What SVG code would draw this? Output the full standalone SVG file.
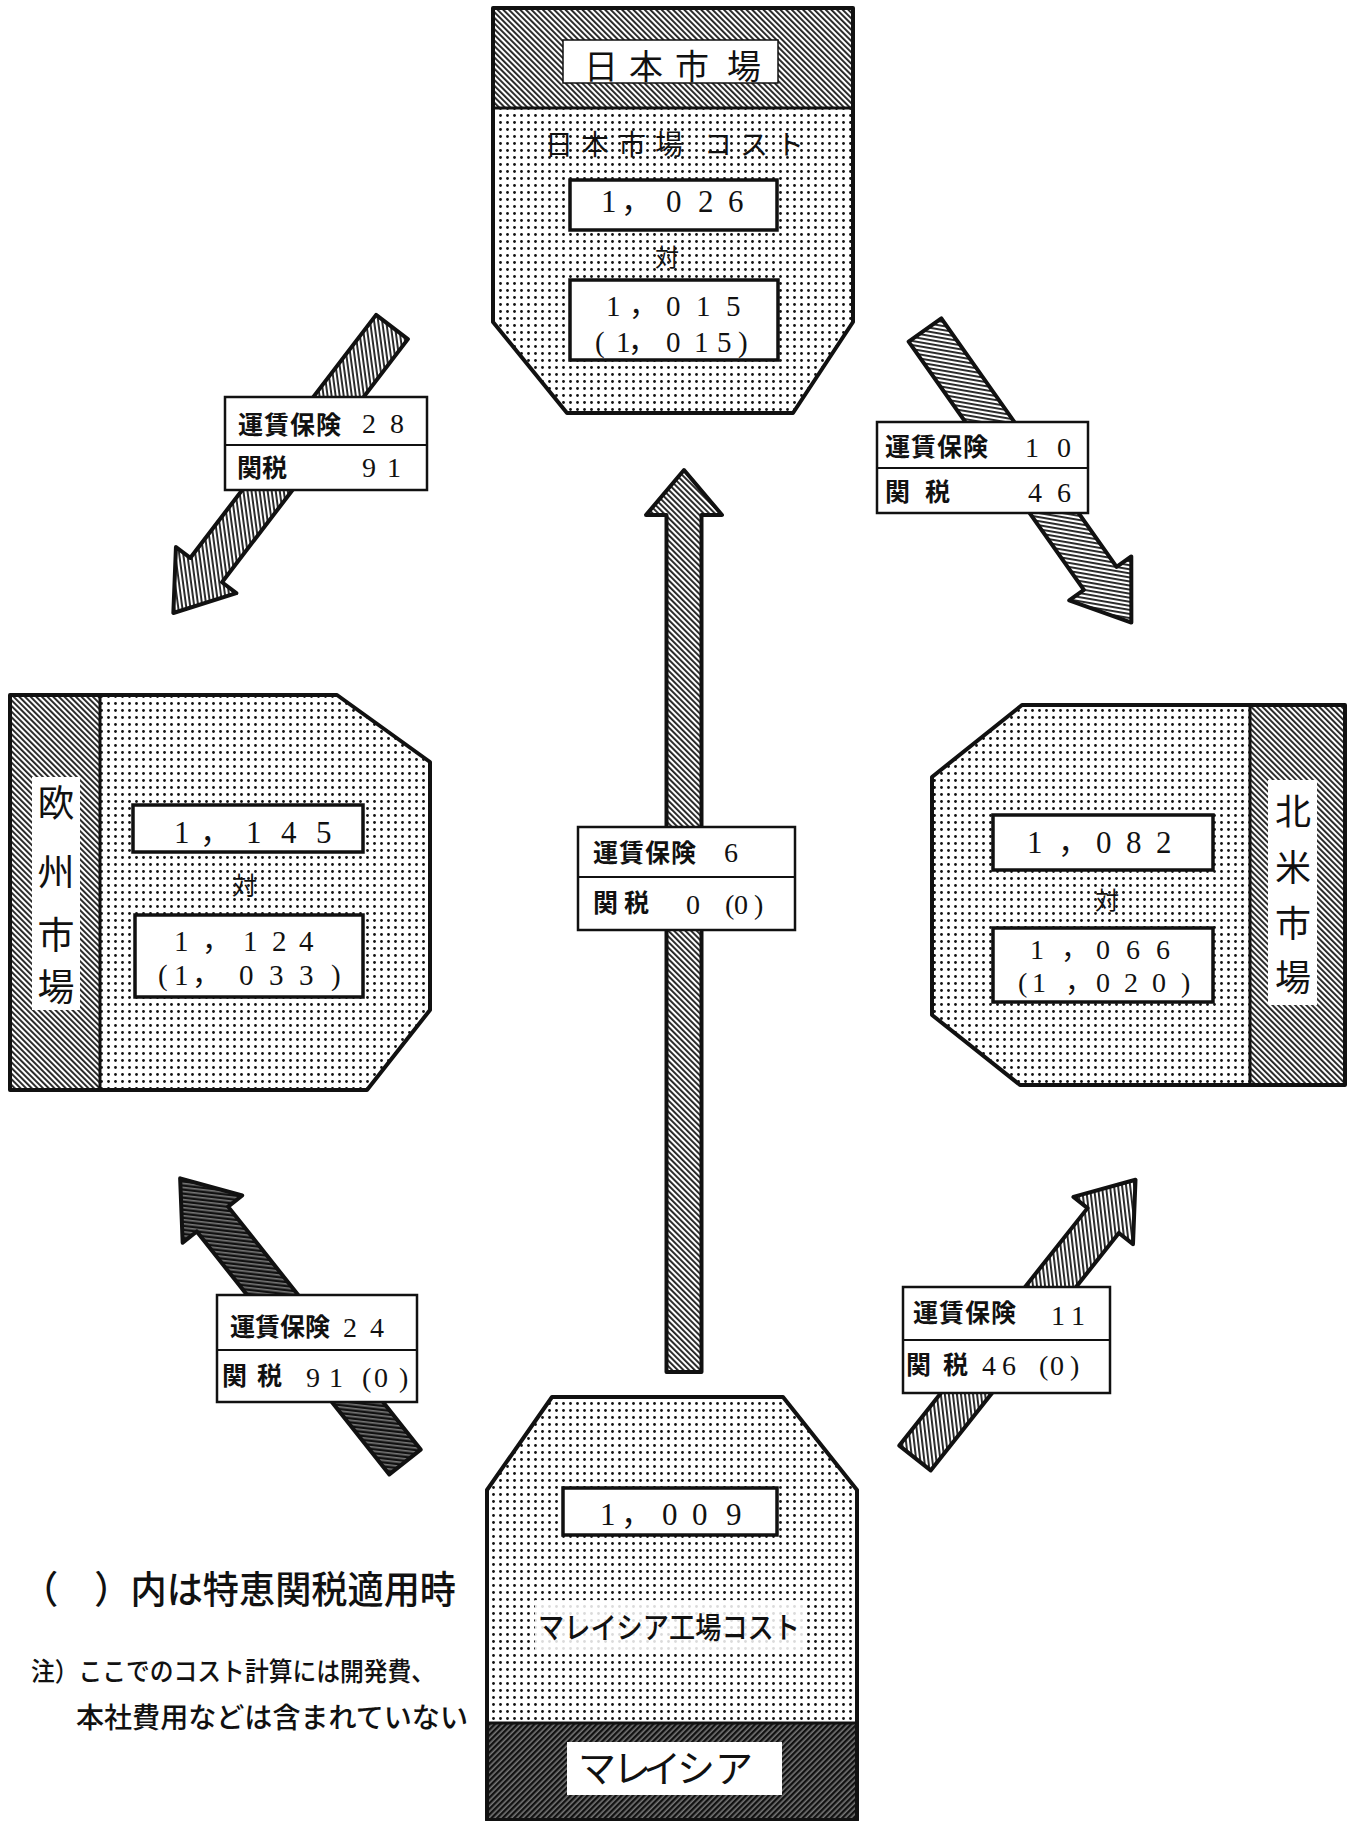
<svg xmlns="http://www.w3.org/2000/svg" width="1353" height="1821" viewBox="0 0 1353 1821">
<style>
.jp{font-family:"Noto Sans CJK JP","Noto Sans CJK SC",sans-serif;fill:#111}
.num{font-family:"Liberation Serif","Noto Sans CJK JP",serif;fill:#111}
.lb{font-family:"Noto Sans CJK JP","Noto Sans CJK SC",sans-serif;font-weight:700;font-size:25px;fill:#111}
.ln{font-family:"Liberation Serif","Noto Sans CJK JP",serif;font-size:28px;fill:#111}
.box{fill:#fff;stroke:#111;stroke-width:3.5}
.tag{fill:#fff;stroke:#111;stroke-width:2.5}
.outline{fill:none;stroke:#111;stroke-width:4;stroke-linejoin:round}
.arrow{stroke:#111;stroke-width:4;stroke-linejoin:round}
</style>
<defs>
<pattern id="dots" width="7" height="7" patternUnits="userSpaceOnUse"><rect width="7" height="7" fill="#fff"/><circle cx="3.5" cy="3.5" r="1.4" fill="#111"/></pattern>
<pattern id="hatch" width="4" height="4" patternUnits="userSpaceOnUse" patternTransform="rotate(45)"><rect width="4" height="4" fill="#fff"/><rect width="1.9" height="4" fill="#222"/></pattern>
<pattern id="hatch2" width="4" height="4" patternUnits="userSpaceOnUse" patternTransform="rotate(-45)"><rect width="4" height="4" fill="#fff"/><rect width="1.9" height="4" fill="#222"/></pattern>
<pattern id="hatchDark" width="4" height="4" patternUnits="userSpaceOnUse" patternTransform="rotate(45)"><rect width="4" height="4" fill="#777"/><rect width="2.4" height="4" fill="#111"/></pattern>
</defs>
<rect width="1353" height="1821" fill="#fff"/>

<g id="connectors">
  <g id="arrow-japan-europe">
    <polygon class="arrow" fill="url(#hatch)" transform="translate(392,327) rotate(127.4)" points="0,-20 306,-20 306,-38 360,0 306,38 306,20 0,20"/>
  </g>
  <g id="arrow-japan-na">
    <polygon class="arrow" fill="url(#hatch)" transform="translate(925,330) rotate(54.8)" points="0,-20 304,-20 304,-38 358,0 304,38 304,20 0,20"/>
  </g>
  <g id="arrow-malaysia-europe">
    <polygon class="arrow" fill="url(#hatchDark)" transform="translate(405,1462) rotate(-128.4)" points="0,-20 310,-20 310,-38 362,0 310,38 310,20 0,20"/>
  </g>
  <g id="arrow-malaysia-na">
    <polygon class="arrow" fill="url(#hatch)" transform="translate(915,1458) rotate(-51.6)" points="0,-20 303,-20 303,-38 355,0 303,38 303,20 0,20"/>
  </g>
  <g id="arrow-malaysia-japan">
    <polygon class="arrow" fill="url(#hatch)" transform="translate(684,1372) rotate(-90)" points="0,-17.5 857,-17.5 857,-38 902,0 857,38 857,17.5 0,17.5"/>
  </g>

  <g id="label-japan-europe">
    <rect class="tag" x="225" y="397" width="202" height="93"/>
    <line x1="225" y1="445" x2="427" y2="445" stroke="#111" stroke-width="2"/>
    <text class="lb" x="238" y="434" letter-spacing="1">運賃保険</text>
    <text class="ln" x="362 390" y="433">28</text>
    <text class="lb" x="237" y="477">関税</text>
    <text class="ln" x="362 387" y="477">91</text>
  </g>
  <g id="label-japan-na">
    <rect class="tag" x="877" y="422" width="211" height="91"/>
    <line x1="877" y1="468" x2="1088" y2="468" stroke="#111" stroke-width="2"/>
    <text class="lb" x="885" y="456" letter-spacing="1">運賃保険</text>
    <text class="ln" x="1025 1057" y="457">10</text>
    <text class="lb" x="885 925" y="501">関税</text>
    <text class="ln" x="1028 1057" y="502">46</text>
  </g>
  <g id="label-malaysia-europe">
    <rect class="tag" x="217" y="1295" width="200" height="107"/>
    <line x1="217" y1="1350" x2="417" y2="1350" stroke="#111" stroke-width="2"/>
    <text class="lb" x="230" y="1336" font-size="23">運賃保険</text>
    <text class="ln" x="343 370" y="1337">24</text>
    <text class="lb" x="222 257" y="1385">関税</text>
    <text class="ln" x="306 329 362 374 399" y="1387">91(0)</text>
  </g>
  <g id="label-malaysia-na">
    <rect class="tag" x="903" y="1287" width="207" height="106"/>
    <line x1="903" y1="1340" x2="1110" y2="1340" stroke="#111" stroke-width="2"/>
    <text class="lb" x="913" y="1322" letter-spacing="1">運賃保険</text>
    <text class="ln" x="1051 1071" y="1325">11</text>
    <text class="lb" x="906 943" y="1374">関税</text>
    <text class="ln" x="982 1002 1039 1050 1070" y="1375">46(0)</text>
  </g>
  <g id="label-malaysia-japan">
    <rect class="tag" x="578" y="827" width="217" height="103"/>
    <line x1="578" y1="877" x2="795" y2="877" stroke="#111" stroke-width="2"/>
    <text class="lb" x="593" y="862" letter-spacing="1">運賃保険</text>
    <text class="ln" x="724" y="862">6</text>
    <text class="lb" x="593 624" y="912">関税</text>
    <text class="ln" x="686 725 734 754" y="914">0(0)</text>
  </g>
</g>

<g id="node-japan">
  <polygon points="493,8 853,8 853,322 793,413 567,413 493,322" fill="url(#dots)"/>
  <rect x="493" y="8" width="360" height="100" fill="url(#hatch2)"/>
  <line x1="493" y1="108" x2="853" y2="108" stroke="#111" stroke-width="3"/>
  <polygon class="outline" points="493,8 853,8 853,322 793,413 567,413 493,322"/>
  <rect x="563" y="40" width="215" height="43" fill="#fff" stroke="#111" stroke-width="1.5"/>
  <text class="jp" x="584 629 675 727" y="79" font-size="34">日本市場</text>
  <text class="jp" x="545 581 618 655 704 740 776" y="155" font-size="28">日本市場コスト</text>
  <rect class="box" x="570" y="180" width="207" height="50"/>
  <text class="num" x="601 621 666 698 728" y="212" font-size="31">1，026</text>
  <text class="jp" x="655" y="266" font-size="24">対</text>
  <rect class="box" x="570" y="280" width="208" height="80"/>
  <text class="num" x="606 629 666 696 726" y="316" font-size="29">1，015</text>
  <text class="num" x="595 616 628 666 694 717 738" y="352" font-size="29">(1，015)</text>
</g>

<g id="node-europe">
  <polygon points="10,695 337,695 430,762 430,1010 367,1090 10,1090" fill="url(#dots)"/>
  <rect x="10" y="695" width="90" height="395" fill="url(#hatch2)"/>
  <line x1="100" y1="695" x2="100" y2="1090" stroke="#111" stroke-width="3"/>
  <polygon class="outline" points="10,695 337,695 430,762 430,1010 367,1090 10,1090"/>
  <rect x="32" y="777" width="48" height="233" fill="#fff"/>
  <text class="jp" font-size="37" text-anchor="middle"><tspan x="56" y="817">欧</tspan><tspan x="56" y="886">州</tspan><tspan x="56" y="949">市</tspan><tspan x="56" y="1001">場</tspan></text>
  <rect class="box" x="133" y="805" width="230" height="47"/>
  <text class="num" x="174 200 246 281 316" y="843" font-size="31">1，145</text>
  <text class="jp" x="232" y="895" font-size="25">対</text>
  <rect class="box" x="135" y="915" width="228" height="82"/>
  <text class="num" x="174 202 243 272 299" y="951" font-size="29">1，124</text>
  <text class="num" x="158 174 192 239 269 299 331" y="985" font-size="29">(1，033)</text>
</g>

<g id="node-na">
  <polygon points="1022,705 1345,705 1345,1085 1020,1085 932,1015 932,777" fill="url(#dots)"/>
  <rect x="1250" y="705" width="95" height="380" fill="url(#hatch2)"/>
  <line x1="1250" y1="705" x2="1250" y2="1085" stroke="#111" stroke-width="3"/>
  <polygon class="outline" points="1022,705 1345,705 1345,1085 1020,1085 932,1015 932,777"/>
  <rect x="1268" y="780" width="49" height="225" fill="#fff"/>
  <text class="jp" font-size="36" text-anchor="middle"><tspan x="1293" y="825">北</tspan><tspan x="1293" y="881">米</tspan><tspan x="1293" y="937">市</tspan><tspan x="1293" y="991">場</tspan></text>
  <rect class="box" x="993" y="815" width="220" height="55"/>
  <text class="num" x="1027 1058 1096 1126 1156" y="853" font-size="31">1，082</text>
  <text class="jp" x="1095" y="909" font-size="24">対</text>
  <rect class="box" x="993" y="928" width="220" height="74"/>
  <text class="num" x="1030 1061 1096 1126 1156" y="959" font-size="28">1，066</text>
  <text class="num" x="1018 1032 1065 1096 1124 1152 1181" y="992" font-size="28">(1，020)</text>
</g>

<g id="node-malaysia">
  <polygon points="552,1397 783,1397 857,1490 857,1820 487,1820 487,1490" fill="url(#dots)"/>
  <rect x="487" y="1723" width="370" height="97" fill="url(#hatchDark)"/>
  <line x1="487" y1="1723" x2="857" y2="1723" stroke="#111" stroke-width="3"/>
  <polygon class="outline" points="552,1397 783,1397 857,1490 857,1820 487,1820 487,1490"/>
  <rect x="567" y="1742" width="215" height="53" fill="#fff"/>
  <text class="jp" x="578 613 643 677 715" y="1782" font-size="38">マレイシア</text>
  <rect class="box" x="563" y="1488" width="214" height="47"/>
  <text class="num" x="600 621 662 692 726" y="1525" font-size="31">1，009</text>
  <rect x="535" y="1600" width="272" height="50" fill="#fff" opacity="0.85"/>
  <text class="jp" x="538" y="1638" font-size="30" font-weight="500" textLength="262" lengthAdjust="spacingAndGlyphs">マレイシア工場コスト</text>
</g>

<g id="notes">
  <text class="jp" x="22" y="1603" font-size="38" font-weight="500" textLength="434" lengthAdjust="spacingAndGlyphs">（　）内は特恵関税適用時</text>
  <text class="jp" x="31" y="1681" font-size="26" font-weight="500" textLength="404" lengthAdjust="spacingAndGlyphs">注）ここでのコスト計算には開発費、</text>
  <text class="jp" x="76" y="1728" font-size="28" font-weight="500" textLength="392" lengthAdjust="spacingAndGlyphs">本社費用などは含まれていない</text>
</g>
</svg>
